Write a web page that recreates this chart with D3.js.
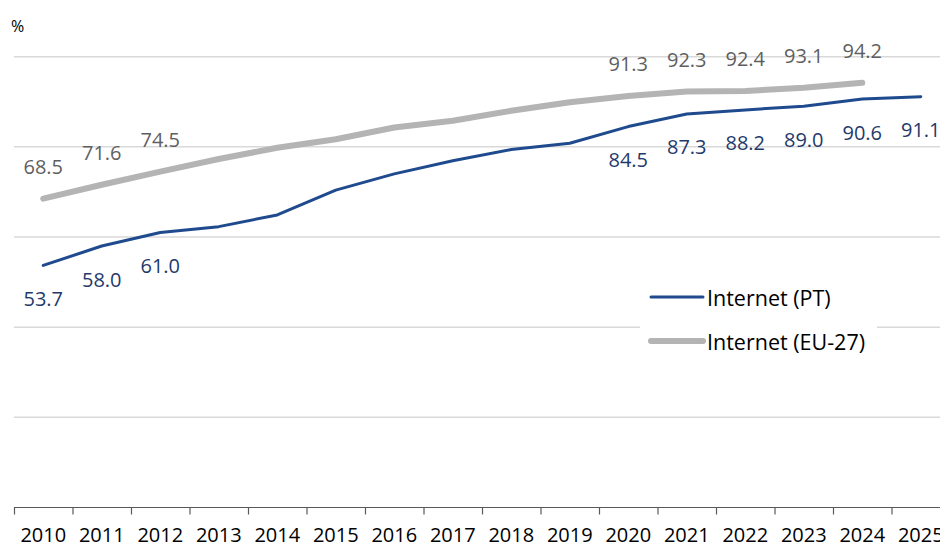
<!DOCTYPE html>
<html>
<head>
<meta charset="utf-8">
<script src="https://cdn.jsdelivr.net/npm/d3@7"></script>
<style>
  html, body { margin: 0; padding: 0; background: #fff; }
  svg { display: block; font-family: "Open Sans", sans-serif; }
</style>
</head>
<body>
<svg id="chart" width="940" height="548"></svg>
<script>
const years = ["2010","2011","2012","2013","2014","2015","2016","2017","2018","2019","2020","2021","2022","2023","2024","2025"];
const ptValues = [53.7, 58.0, 61.0, 62.3, 64.9, 70.4, 74.0, 76.9, 79.4, 80.8, 84.5, 87.3, 88.2, 89.0, 90.6, 91.1];
const euValues = [68.5, 71.6, 74.5, 77.3, 79.8, 81.7, 84.3, 85.8, 88.0, 89.9, 91.3, 92.3, 92.4, 93.1, 94.2, null];
const labeledYears = ["2010","2011","2012","2020","2021","2022","2023","2024","2025"];
const yTicks = [20, 40, 60, 80, 100];
const seriesNames = ["Internet (PT)", "Internet (EU-27)"];

const svg = d3.select("#chart");
const x = d3.scaleBand().domain(years).range([14, 950]).padding(0);
const y = d3.scaleLinear().domain([0, 100]).range([507.5, 56.7]);
const cx = d => x(d) + x.bandwidth() / 2;

// gridlines
svg.append("g").selectAll("line").data(yTicks).join("line")
  .attr("x1", 14).attr("x2", 940)
  .attr("y1", d => y(d)).attr("y2", d => y(d))
  .attr("stroke", "#d9d9d9").attr("stroke-width", 1.5);

// x axis
const xAxis = svg.append("g").attr("transform", `translate(0,${y(0)})`)
  .call(d3.axisBottom(x).tickSize(0).tickPadding(20));
xAxis.select(".domain").remove();
xAxis.selectAll("text").attr("font-size", 20).attr("fill", "#000")
  .attr("font-family", "Open Sans, sans-serif");
svg.append("line").attr("x1", 14).attr("x2", 940)
  .attr("y1", y(0)).attr("y2", y(0)).attr("stroke", "#595959").attr("stroke-width", 1.2);
svg.append("g").selectAll("line").data(years).join("line")
  .attr("x1", d => x(d) + 0.5).attr("x2", d => x(d) + 0.5)
  .attr("y1", y(0)).attr("y2", y(0) + 7)
  .attr("stroke", "#595959").attr("stroke-width", 1.2);

// % label
svg.append("text").attr("x", 11).attr("y", 32).attr("font-size", 16).attr("fill", "#000").text("%");

const line = d3.line().defined(d => d.v != null).x(d => cx(d.year)).y(d => y(d.v));
const ptData = years.map((yr, i) => ({year: yr, v: ptValues[i]}));
const euData = years.map((yr, i) => ({year: yr, v: euValues[i]}));

svg.append("path").datum(euData).attr("d", line)
  .attr("fill", "none").attr("stroke", "#b4b4b4").attr("stroke-width", 6)
  .attr("stroke-linecap", "round").attr("stroke-linejoin", "round");
svg.append("path").datum(ptData).attr("d", line)
  .attr("fill", "none").attr("stroke", "#1f4b8e").attr("stroke-width", 3)
  .attr("stroke-linecap", "round").attr("stroke-linejoin", "round");

// data labels
svg.append("g").selectAll("text")
  .data(euData.filter(d => d.v != null && labeledYears.includes(d.year))).join("text")
  .attr("x", d => cx(d.year)).attr("y", d => y(d.v) - 32)
  .attr("text-anchor", "middle").attr("dominant-baseline", "central")
  .attr("font-size", 20).attr("fill", "#5f5f5f")
  .text(d => d.v.toFixed(1));
svg.append("g").selectAll("text")
  .data(ptData.filter(d => d.v != null && labeledYears.includes(d.year))).join("text")
  .attr("x", d => cx(d.year)).attr("y", d => y(d.v) + 33)
  .attr("text-anchor", "middle").attr("dominant-baseline", "central")
  .attr("font-size", 20).attr("fill", "#1f3a6b")
  .text(d => d.v.toFixed(1));

// legend
const lg = svg.append("g");
lg.append("rect").attr("x", 640).attr("y", 278).attr("width", 237).attr("height", 80).attr("fill", "#fff");
const legendItems = [
  {name: seriesNames[0], color: "#1f4b8e", w: 3, yy: 297},
  {name: seriesNames[1], color: "#b4b4b4", w: 6, yy: 341}
];
legendItems.forEach(it => {
  lg.append("line").attr("x1", 651).attr("x2", 703).attr("y1", it.yy).attr("y2", it.yy)
    .attr("stroke", it.color).attr("stroke-width", it.w).attr("stroke-linecap", "round");
  lg.append("text").attr("x", 707).attr("y", it.yy).attr("dominant-baseline", "central")
    .attr("font-size", 21.5).attr("fill", "#000").text(it.name);
});
</script>
</body>
</html>
